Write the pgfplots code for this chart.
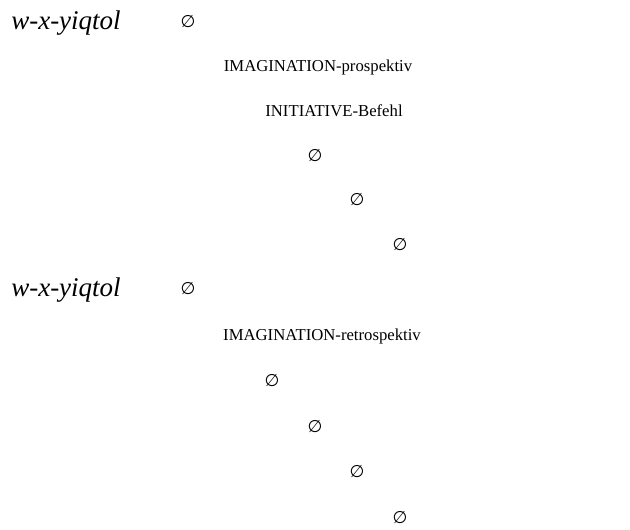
\documentclass[border=0pt]{standalone}
\usepackage{fontspec}
\setmainfont{Liberation Serif}
\newfontfamily\symfont{DejaVu Sans}
\usepackage{pgfplots}
\pgfplotsset{compat=1.18}
\usepackage{pgfplotstable}
\pgfplotstableread{
x y label
66 23 w-x-yiqtol
66 290 w-x-yiqtol
}\italicdata
\pgfplotstableread{
x y label
318 67 IMAGINATION-prospektiv
334 111 INITIATIVE-Befehl
322 336 IMAGINATION-retrospektiv
}\textdata
\pgfplotstableread{
x y label
188 22 ∅
315 156 ∅
357 200 ∅
400 245 ∅
188 289 ∅
272 381 ∅
315 427 ∅
357 472 ∅
400 518 ∅
}\emptydata
\begin{document}
\begin{tikzpicture}
\begin{axis}[
  width=630pt, height=530pt, scale only axis,
  xmin=0, xmax=630, ymin=0, ymax=530, y dir=reverse,
  hide axis, clip=false,
  every node near coord/.append style={anchor=center, inner sep=0pt, black},
]
\addplot[draw=none, mark=none, nodes near coords, point meta=explicit symbolic,
  every node near coord/.append style={font=\fontsize{27}{30}\selectfont\itshape}]
  table[meta=label] {\italicdata};
\addplot[draw=none, mark=none, nodes near coords, point meta=explicit symbolic,
  every node near coord/.append style={font=\fontsize{16.7}{20}\selectfont}]
  table[meta=label] {\textdata};
\addplot[draw=none, mark=none, nodes near coords, point meta=explicit symbolic,
  every node near coord/.append style={font=\symfont\fontsize{17}{20}\selectfont}]
  table[meta=label] {\emptydata};
\draw[draw=none] (rel axis cs:0,0) rectangle (rel axis cs:1,1);
\end{axis}
\end{tikzpicture}
\end{document}
